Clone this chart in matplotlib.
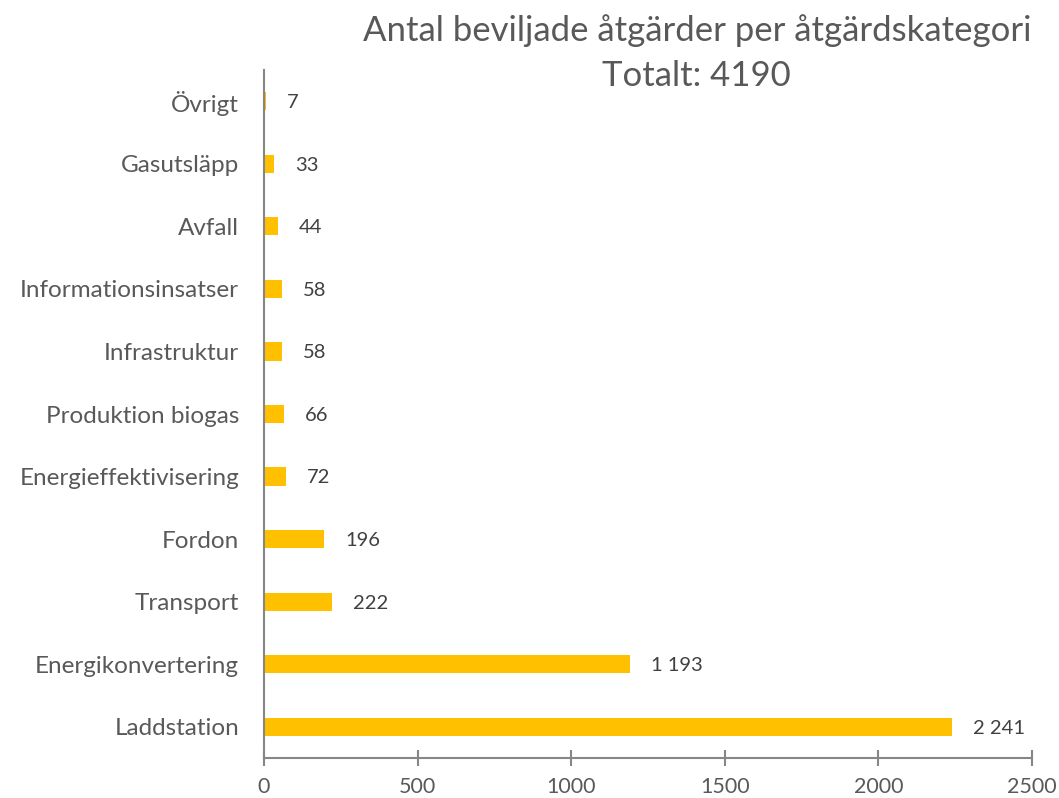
import matplotlib.pyplot as plt

kategorier = ['Laddstation', 'Energikonvertering', 'Transport', 'Fordon',
              'Energieffektivisering', 'Produktion biogas', 'Infrastruktur',
              'Informationsinsatser', 'Avfall', 'Gasutsläpp', 'Övrigt']
antal = [2241, 1193, 222, 196, 72, 66, 58, 58, 44, 33, 7]
xticks = [0, 500, 1000, 1500, 2000, 2500]

gra = '#595959'
plt.rcParams['font.family'] = ['Lato', 'DejaVu Sans']

fig = plt.figure(figsize=(10.59, 7.98), dpi=100)
ax = fig.add_axes([0.2493, 0.0501, 0.7252, 0.8622])

y = range(len(kategorier))
ax.barh(y, antal, height=0.29, color='#FFC000')

for i, v in enumerate(antal):
    txt = f'{v:,}'.replace(',', ' ')
    ax.annotate(txt, (v, i), xytext=(15, -1), textcoords='offset points',
                va='center', ha='left', fontsize=14.5, color='#404040')

ax.set_xlim(0, 2500)
ax.set_ylim(-0.5, 10.5)
ax.set_xticks(xticks)
ax.set_yticks(list(y))
ax.set_yticklabels(kategorier, fontsize=17.5, color=gra)
ax.tick_params(axis='x', direction='inout', length=12, width=1.5,
               color='#868686', labelsize=15.5, labelcolor=gra, pad=8)
ax.tick_params(axis='y', length=0, pad=18)

for s in ['top', 'right']:
    ax.spines[s].set_visible(False)
for s in ['left', 'bottom']:
    ax.spines[s].set_color('#868686')
    ax.spines[s].set_linewidth(1.5)

fig.text(0.658, 0.962, 'Antal beviljade åtgärder per åtgärdskategori',
         ha='center', va='center', fontsize=25, color=gra)
fig.text(0.658, 0.905, 'Totalt: 4190', ha='center', va='center',
         fontsize=25, color=gra)

fig.savefig('out.png', dpi=100)
